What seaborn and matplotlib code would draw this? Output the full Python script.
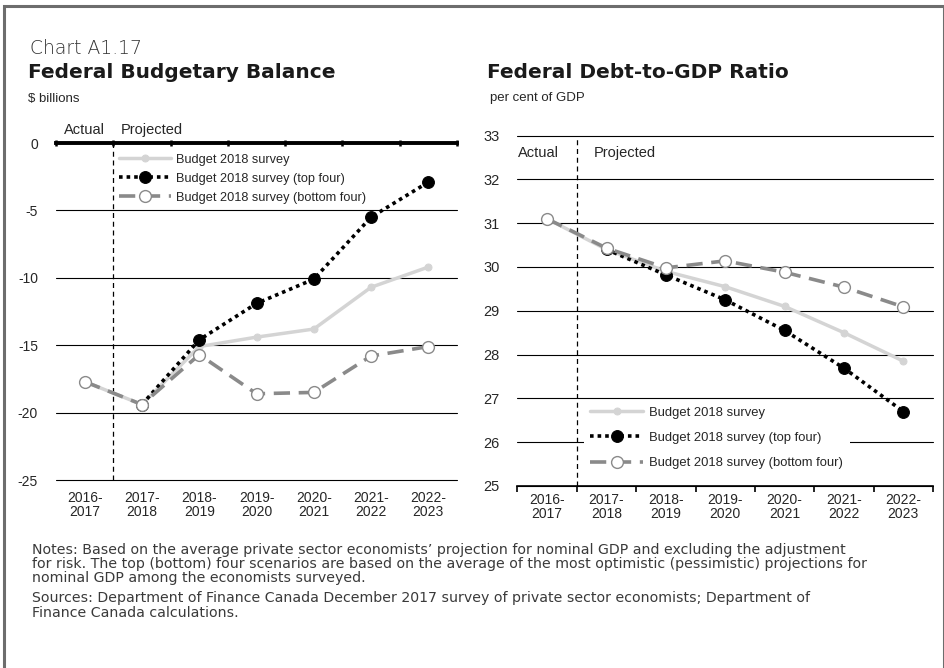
import numpy as np
import pandas as pd
import matplotlib
matplotlib.use("Agg")
import matplotlib.pyplot as plt
from matplotlib.ticker import FixedLocator
from matplotlib.patches import Rectangle
import seaborn as sns

# ── Data ─────────────────────────────────────────────────────
years = ["2016-\n2017", "2017-\n2018", "2018-\n2019", "2019-\n2020",
         "2020-\n2021", "2021-\n2022", "2022-\n2023"]

# Federal budgetary balance ($ billions)
bal_survey = [-17.7, -19.4, -15.1, -14.4, -13.8, -10.7, -9.2]
bal_top = [np.nan, -19.4, -14.6, -11.9, -10.1, -5.5, -2.9]
bal_bottom = [-17.7, -19.4, -15.7, -18.6, -18.5, -15.8, -15.1]

# Federal debt-to-GDP ratio (per cent of GDP)
debt_survey = [31.1, 30.4, 29.9, 29.55, 29.1, 28.5, 27.85]
debt_top = [np.nan, 30.4, 29.82, 29.25, 28.55, 27.69, 26.7]
debt_bottom = [31.1, 30.43, 29.98, 30.14, 29.88, 29.54, 29.09]

labels = ["Budget 2018 survey", "Budget 2018 survey (top four)",
          "Budget 2018 survey (bottom four)"]

notes_lines = [
    "Notes: Based on the average private sector economists\u2019 projection "
    "for nominal GDP and excluding the adjustment",
    "for risk. The top (bottom) four scenarios are based on the average "
    "of the most optimistic (pessimistic) projections for",
    "nominal GDP among the economists surveyed.",
    "Sources: Department of Finance Canada December 2017 survey of "
    "private sector economists; Department of",
    "Finance Canada calculations.",
]

# ── Style ────────────────────────────────────────────────────
sns.set_style("white")
plt.rcParams["font.family"] = ["Liberation Sans", "DejaVu Sans"]

LIGHT = "#d4d4d4"
MID = "#8a8a8a"
styles = [
    dict(color=LIGHT, lw=2.5, ls="-", marker="o", markersize=5,
         markerfacecolor=LIGHT, markeredgecolor=LIGHT),
    dict(color="black", lw=2.6, ls=(0, (1, 1.1)), marker="o", markersize=8.5,
         markerfacecolor="black", markeredgecolor="black"),
    dict(color=MID, lw=2.6, ls=(0, (4.5, 2.4)), marker="o", markersize=8.5,
         markerfacecolor="white", markeredgecolor=MID, markeredgewidth=1),
]


def draw_series(ax, series):
    for vals, lab, st in zip(series, labels, styles):
        df = pd.DataFrame({"year": years, "value": vals}).dropna()
        sns.lineplot(data=df, x="year", y="value", ax=ax, sort=False,
                     label=lab, **st)


def base_axes(ax):
    ax.set_xlim(-0.5, len(years) - 0.5)
    ax.set_xlabel("")
    ax.set_ylabel("")
    ax.grid(axis="y", color="black", lw=0.8)
    ax.grid(axis="x", visible=False)
    ax.set_axisbelow(True)
    for s in ax.spines.values():
        s.set_visible(False)
    ax.axvline(0.5, color="black", lw=0.9, ls=(0, (4, 3)), zorder=1)
    ax.xaxis.set_minor_locator(FixedLocator(np.arange(-0.5, len(years), 1.0)))


def finish_axes(ax):
    for t in ax.get_xticklabels():
        t.set_linespacing(1.0)
    for gl in ax.get_ygridlines():
        gl.set_clip_on(False)


fig = plt.figure(figsize=(9.45, 6.68), dpi=100)

# page border
fig.patches.append(Rectangle((4 / 945, -0.1), 940 / 945, 1.1 - 6 / 668,
                             transform=fig.transFigure, fill=False,
                             edgecolor="#6d6d6d", lw=2.2))

# ── Left: budgetary balance ──────────────────────────────────
ax1 = fig.add_axes([0.0593, 0.2814, 0.4243, 0.5045])
draw_series(ax1, [bal_survey, bal_top, bal_bottom])
base_axes(ax1)
ax1.set_ylim(-25, 0)
ax1.set_yticks([0, -5, -10, -15, -20, -25])
ax1.set_yticklabels(["0", "-5", "-10", "-15", "-20", "-25"])
ax1.spines["top"].set_visible(True)
ax1.spines["top"].set_linewidth(2.8)
ax1.spines["top"].set_color("black")
ax1.tick_params(axis="x", which="major", length=0, pad=8, labelsize=10)
ax1.tick_params(axis="x", which="minor", top=True, bottom=False,
                direction="inout", length=5, width=1.8, color="black")
ax1.tick_params(axis="y", length=0, pad=13, labelsize=10)
finish_axes(ax1)
ax1.legend(loc="upper left", bbox_to_anchor=(0.158, 0.968),
           frameon=False, fontsize=9.2, handlelength=4.0,
           handletextpad=0.4, labelspacing=0.55, borderpad=0,
           borderaxespad=0)
ax1.text(0.0, 1.039, "Actual", transform=ax1.get_xaxis_transform(),
         ha="center", va="center", fontsize=10.5)
ax1.text(0.63, 1.039, "Projected", transform=ax1.get_xaxis_transform(),
         ha="left", va="center", fontsize=10.5)

# ── Right: debt-to-GDP ───────────────────────────────────────
ax2 = fig.add_axes([0.5476, 0.2725, 0.4397, 0.5245])
draw_series(ax2, [debt_survey, debt_top, debt_bottom])
base_axes(ax2)
ax2.set_ylim(25, 33)
ax2.set_yticks(range(25, 34))
ax2.spines["bottom"].set_visible(True)
ax2.spines["bottom"].set_linewidth(1.2)
ax2.spines["bottom"].set_color("black")
ax2.tick_params(axis="x", which="major", length=0, pad=5, labelsize=10)
ax2.tick_params(axis="x", which="minor", bottom=True, direction="out",
                length=4, width=1.2, color="black")
ax2.tick_params(axis="y", length=0, pad=13, labelsize=10.5)
finish_axes(ax2)
ax2.legend(loc="upper left", bbox_to_anchor=(0.16, 0.245),
           frameon=True, fontsize=9.4, handlelength=4.0,
           handletextpad=0.5, labelspacing=1.0, borderpad=0.5,
           borderaxespad=0, facecolor="white", edgecolor="none",
           framealpha=1, fancybox=False)
ax2.text(-0.5, 32.6, "Actual", ha="left", va="center", fontsize=10.5)
ax2.text(0.79, 32.6, "Projected", ha="left", va="center", fontsize=10.5)

# ── Titles ───────────────────────────────────────────────────
fig.text(30 / 945, 1 - 48 / 668, "Chart A1.17", fontsize=13.5,
         color="#333333", va="center", family="DejaVu Sans",
         fontweight="light")
fig.text(28 / 945, 1 - 73 / 668, "Federal Budgetary Balance", fontsize=14.5,
         fontweight="bold", color="#1a1a1a", va="center", family="DejaVu Sans")
fig.text(487 / 945, 1 - 73 / 668, "Federal Debt-to-GDP Ratio", fontsize=14.5,
         fontweight="bold", color="#1a1a1a", va="center", family="DejaVu Sans")
fig.text(28 / 945, 1 - 99 / 668, "$ billions", fontsize=9.5, va="center")
fig.text(490 / 945, 1 - 98 / 668, "per cent of GDP", fontsize=9.5, va="center")

# ── Notes ────────────────────────────────────────────────────
for line, ypx in zip(notes_lines, [550, 564, 578, 598, 613]):
    fig.text(32 / 945, 1 - ypx / 668, line, fontsize=10.2, va="center",
             color="#3a3a3a", family="DejaVu Sans")

fig.savefig("out.png", dpi=100)
plt.close(fig)
